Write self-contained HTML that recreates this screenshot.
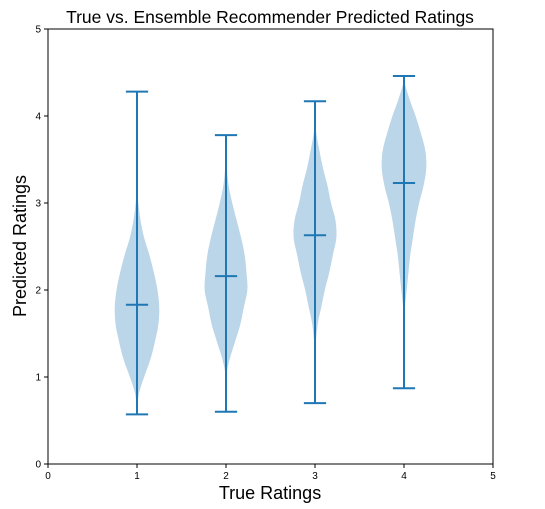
<!DOCTYPE html>
<html><head><meta charset="utf-8"><style>
body{margin:0;background:#fff;}
svg{display:block;font-family:"Liberation Sans",sans-serif;}
</style></head><body>
<svg id="chart" width="545" height="509">
<text x="270" y="23" text-anchor="middle" font-size="17.5" fill="#000">True vs. Ensemble Recommender Predicted Ratings</text>
<text x="270" y="499" text-anchor="middle" font-size="18" fill="#000">True Ratings</text>
<text transform="translate(26,246) rotate(-90)" text-anchor="middle" font-size="18" fill="#000">Predicted Ratings</text>
<g id="plot"></g>
</svg>
<script>
const categories=[1,2,3,4];
const mins=[0.57,0.60,0.70,0.87];
const maxs=[4.28,3.78,4.17,4.46];
const medians=[1.83,2.16,2.63,3.23];
const profileY=[
 [0.57,0.8,1.0,1.2,1.4,1.6,1.8,2.0,2.2,2.4,2.6,2.8,3.0,3.2,3.5],
 [0.6,1.0,1.2,1.4,1.6,1.8,2.0,2.2,2.4,2.6,2.8,3.0,3.2,3.4,3.6],
 [1.3,1.6,1.8,2.0,2.2,2.4,2.6,2.8,3.0,3.2,3.4,3.6,3.8,4.0],
 [1.6,1.8,2.0,2.2,2.4,2.6,2.8,3.0,3.2,3.4,3.6,3.8,4.0,4.2,4.4]
];
const profileW=[
 [0,0.02,0.08,0.15,0.2,0.24,0.25,0.23,0.19,0.14,0.08,0.04,0.015,0.005,0],
 [0,0.005,0.04,0.1,0.16,0.2,0.24,0.23,0.21,0.17,0.12,0.07,0.03,0.01,0],
 [0,0.03,0.07,0.11,0.16,0.2,0.24,0.23,0.18,0.14,0.09,0.05,0.015,0],
 [0,0.01,0.03,0.05,0.07,0.1,0.13,0.17,0.22,0.25,0.24,0.19,0.13,0.06,0]
];
const xTicks=[0,1,2,3,4,5];
const yTicks=[0,1,2,3,4,5];
const X0=48,X1=493,Y0=464,Y1=29;
const sx=v=>X0+(X1-X0)*v/5, sy=v=>Y0-(Y0-Y1)*v/5;
const NS="http://www.w3.org/2000/svg";
const g=document.getElementById('plot');
function mk(t,a){const e=document.createElementNS(NS,t);for(const k in a)e.setAttribute(k,a[k]);g.appendChild(e);return e;}
const C="#1f77b4";
function smooth(pts){let d="M"+pts[0][0]+","+pts[0][1];for(let i=0;i<pts.length-1;i++){const p0=pts[Math.max(0,i-1)],p1=pts[i],p2=pts[i+1],p3=pts[Math.min(pts.length-1,i+2)];
const c1=[p1[0]+(p2[0]-p0[0])/6,p1[1]+(p2[1]-p0[1])/6],c2=[p2[0]-(p3[0]-p1[0])/6,p2[1]-(p3[1]-p1[1])/6];
d+=" C"+c1[0]+","+c1[1]+" "+c2[0]+","+c2[1]+" "+p2[0]+","+p2[1];}return d;}
categories.forEach((c,i)=>{
 const right=profileY[i].map((y,j)=>[sx(c+profileW[i][j]),sy(y)]);
 const left=profileY[i].map((y,j)=>[sx(c-profileW[i][j]),sy(y)]).reverse();
 const d=smooth(right)+" L"+left[0][0]+","+left[0][1]+smooth(left).replace(/^M[^C]*/,"")+"Z";
 const p=mk('path',{d:d,fill:C,'fill-opacity':0.3,stroke:'none'});
 
 
 const v=mk('line',{x1:sx(c),x2:sx(c),y1:sy(mins[i]),y2:sy(maxs[i]),stroke:C,'stroke-width':2});
 
 
 [[mins[i],'min'],[maxs[i],'max'],[medians[i],'median']].forEach(([val,n])=>{
  const l=mk('line',{x1:sx(c-0.125),x2:sx(c+0.125),y1:sy(val),y2:sy(val),stroke:C,'stroke-width':2});
  
  
 });
});
const fr=mk('rect',{x:X0,y:Y1,width:X1-X0,height:Y0-Y1,fill:'none',stroke:'#000','stroke-width':1});


xTicks.forEach(t=>{
 mk('line',{x1:sx(t),x2:sx(t),y1:Y0,y2:Y0+4,stroke:'#000'});
 const tx=mk('text',{x:sx(t),y:Y0+15,'text-anchor':'middle','font-size':10});
 tx.textContent=t;
 
 
});
yTicks.forEach(t=>{
 mk('line',{x1:X0-4,x2:X0,y1:sy(t),y2:sy(t),stroke:'#000'});
 const tx=mk('text',{x:X0-7,y:sy(t)+3.5,'text-anchor':'end','font-size':10});
 tx.textContent=t;
 
 
});
</script>
</body></html>
